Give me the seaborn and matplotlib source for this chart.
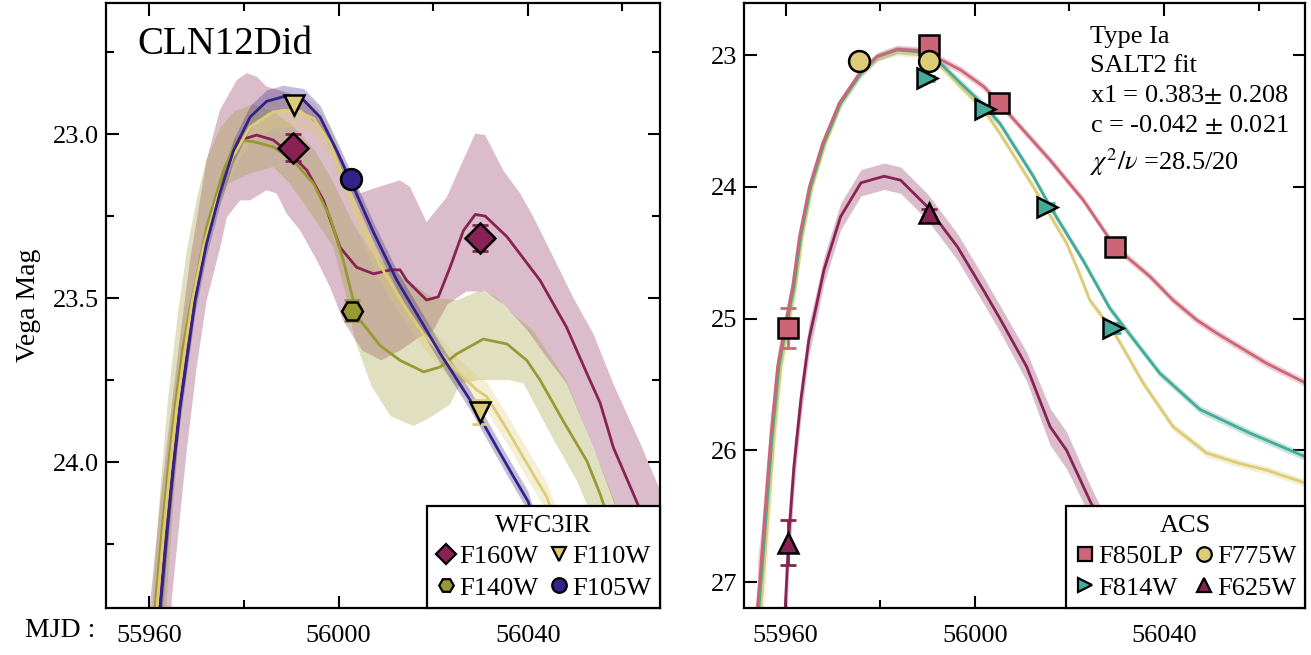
import numpy as np
import matplotlib
matplotlib.use("Agg")
import matplotlib.pyplot as plt
import seaborn as sns
from matplotlib.lines import Line2D
from matplotlib.ticker import MultipleLocator, FormatStrFormatter

sns.set_theme(style="ticks")
plt.rcParams["font.family"] = ["Liberation Serif", "DejaVu Serif"]
plt.rcParams["mathtext.fontset"] = "stix"
for key in ["text.color", "axes.labelcolor", "xtick.color", "ytick.color", "axes.edgecolor"]:
    plt.rcParams[key] = "black"

# colours (Tol muted)
WINE, OLIVE, SAND, INDIGO = "#882255", "#999933", "#DDCC77", "#332288"
ROSE, TEAL = "#CC6677", "#44AA99"

# ---------------- left panel : WFC3IR ----------------
# F105W curve
x_105 = [55961.7, 55962.3, 55963.7, 55965.1, 55966.5, 55968.2, 55969.7, 55972.1, 55974.9, 55977.8,
         55981.3, 55984.8, 55988.3, 55992.6, 55996.1, 55999.6, 56003.1, 56007.4, 56012.3, 56016.5,
         56021.5, 56027.8, 56033.4, 56037.0, 56040.1, 56046.0]
y_105 = [24.65, 24.445, 24.221, 24.015, 23.834, 23.66, 23.506, 23.333, 23.181, 23.05,
         22.948, 22.90, 22.886, 22.896, 22.948, 23.05, 23.16, 23.30, 23.445, 23.547,
         23.669, 23.811, 23.954, 24.045, 24.121, 24.40]
w_105 = [0.10, 0.08, 0.06, 0.05, 0.04, 0.035, 0.035, 0.035, 0.035, 0.035,
         0.035, 0.035, 0.035, 0.035, 0.035, 0.03, 0.03, 0.03, 0.03, 0.03,
         0.03, 0.03, 0.03, 0.03, 0.03, 0.03]

# F110W curve
x_110 = [55961.0, 55961.6, 55963.0, 55964.4, 55965.8, 55967.5, 55969.1, 55971.5, 55974.5, 55977.6,
         55981.3, 55986.2, 55990.4, 55994.7, 55998.2, 56001.0, 56004.5, 56008.8, 56013.7, 56018.0,
         56024.3, 56029.2, 56031.3, 56035.6, 56039.8, 56044.0, 56050.0]
y_110 = [24.65, 24.445, 24.221, 24.015, 23.834, 23.66, 23.506, 23.34, 23.19, 23.07,
         22.978, 22.932, 22.927, 22.952, 23.028, 23.13, 23.26, 23.40, 23.52, 23.61,
         23.712, 23.78, 23.80, 23.90, 24.004, 24.106, 24.35]
w_110 = [0.10, 0.08, 0.06, 0.05, 0.04, 0.04, 0.04, 0.04, 0.04, 0.04,
         0.045, 0.05, 0.05, 0.05, 0.05, 0.05, 0.05, 0.05, 0.045, 0.045,
         0.045, 0.045, 0.045, 0.045, 0.045, 0.045, 0.045]

# F140W curve and band edges
x_140 = [55960.6, 55961.2, 55962.6, 55964.0, 55965.4, 55967.0, 55968.6, 55970.0, 55972.1, 55975.7,
         55978.5, 55982.0, 55986.2, 55990.4, 55994.7, 55998.2, 56001.0, 56003.1, 56004.5, 56008.8,
         56013.0, 56018.0, 56021.5, 56025.0, 56030.6, 56035.6, 56039.8, 56042.6, 56047.5, 56052.5,
         56055.3, 56060.0]
y_140 = [24.65, 24.445, 24.221, 24.015, 23.834, 23.66, 23.53, 23.436, 23.283, 23.11,
         23.018, 23.023, 23.039, 23.08, 23.151, 23.253, 23.385, 23.506, 23.567, 23.645,
         23.69, 23.725, 23.71, 23.67, 23.625, 23.64, 23.69, 23.75, 23.875, 23.997,
         24.098, 24.30]
x_140_hi = [55960.0, 55961.0, 55962.5, 55964.0, 55966.0, 55968.0, 55970.0, 55972.0, 55975.0, 55978.0,
            55982.0, 55986.0, 55990.0, 55995.0, 55999.0, 56003.0, 56007.0, 56012.0, 56016.0, 56020.0,
            56025.0, 56030.0, 56033.4, 56037.0, 56041.2, 56048.2, 56056.7, 56063.0]
y_140_hi = [24.6, 24.35, 24.05, 23.80, 23.55, 23.35, 23.20, 23.08, 22.98, 22.93,
            22.91, 22.93, 22.97, 23.05, 23.15, 23.27, 23.36, 23.42, 23.46, 23.50,
            23.506, 23.477, 23.497, 23.55, 23.60, 23.752, 24.058, 24.30]
x_140_lo = [55963.0, 55964.0, 55965.5, 55967.0, 55969.0, 55971.0, 55973.5, 55976.7, 55981.3, 55986.2,
            55989.7, 55994.7, 55998.9, 56001.7, 56003.5, 56007.0, 56011.0, 56015.8, 56019.3, 56023.6,
            56025.7, 56030.0, 56036.0, 56039.1, 56045.0, 56050.4, 56056.0, 56062.0]
y_140_lo = [24.6, 24.35, 24.05, 23.80, 23.55, 23.40, 23.25, 23.151, 23.12, 23.10,
            23.151, 23.253, 23.345, 23.50, 23.63, 23.77, 23.86, 23.89, 23.865, 23.824,
            23.76, 23.75, 23.75, 23.76, 23.92, 24.058, 24.25, 24.50]

# F160W curve and band edges
x_160 = [55961.5, 55962.2, 55963.5, 55965.0, 55966.4, 55968.0, 55969.6, 55972.0, 55975.0, 55979.2,
         55982.7, 55986.2, 55989.7, 55993.3, 55996.8, 56000.3, 56003.8, 56007.4, 56011.0, 56013.0,
         56014.4, 56018.6, 56021.1, 56023.6, 56026.4, 56028.9, 56031.0, 56035.6, 56042.6, 56048.2,
         56052.5, 56055.3, 56058.1, 56063.0, 56068.0]
y_160 = [24.65, 24.445, 24.221, 24.015, 23.834, 23.66, 23.506, 23.32, 23.16, 23.018,
         23.003, 23.018, 23.059, 23.11, 23.202, 23.345, 23.406, 23.426, 23.414, 23.414,
         23.446, 23.506, 23.496, 23.405, 23.294, 23.245, 23.25, 23.313, 23.446, 23.589,
         23.73, 23.82, 23.956, 24.12, 24.30]
x_160_hi = [55959.8, 55960.2, 55962.3, 55964.4, 55966.5, 55968.6, 55972.1, 55974.9, 55978.5, 55980.6,
            55982.7, 55984.8, 55988.3, 55992.6, 55996.1, 56000.0, 56004.5, 56007.4, 56013.0, 56015.1,
            56018.6, 56022.9, 56025.7, 56028.9, 56031.0, 56034.8, 56038.4, 56041.2, 56045.4, 56049.6,
            56053.9, 56058.1, 56063.7, 56069.0]
y_160_hi = [24.6, 24.425, 24.119, 23.865, 23.62, 23.385, 23.08, 22.927, 22.835, 22.814,
            22.825, 22.855, 22.87, 22.89, 22.95, 23.06, 23.181, 23.166, 23.141, 23.161,
            23.268, 23.192, 23.10, 22.998, 23.003, 23.11, 23.181, 23.253, 23.375, 23.498,
            23.61, 23.762, 23.94, 24.12]
x_160_lo = [55965.2, 55964.7, 55966.1, 55967.9, 55970.0, 55972.1, 55975.0, 55976.4, 55979.2, 55981.3,
            55984.8, 55986.9, 55989.0, 55991.9, 55995.4, 55998.2, 56001.0, 56005.0, 56009.0, 56013.0,
            56017.0, 56020.0, 56023.0, 56027.0, 56031.0, 56035.0, 56040.0, 56045.0, 56048.2, 56053.9,
            56058.1, 56062.0, 56066.0]
y_160_lo = [24.6, 24.425, 24.221, 23.966, 23.712, 23.508, 23.345, 23.253, 23.202, 23.202,
            23.171, 23.181, 23.242, 23.294, 23.385, 23.467, 23.569, 23.66, 23.69, 23.66,
            23.62, 23.60, 23.52, 23.48, 23.48, 23.52, 23.60, 23.70, 23.76, 23.956,
            24.119, 24.30, 24.50]

# WFC3IR photometry
pt_160_x, pt_160_y, pt_160_e = [55990.3, 56029.8], [23.041, 23.316], [0.04, 0.039]
pt_110_x, pt_110_y, pt_110_e = [55990.5, 56030.0], [22.91, 23.847], [0.02, 0.037]
pt_140_x, pt_140_y, pt_140_e = [56002.8], [23.538], [0.033]
pt_105_x, pt_105_y, pt_105_e = [56002.7], [23.137], [0.015]

# ---------------- right panel : ACS (SALT2) ----------------
x_850 = [55954.0, 55954.75, 55955.8, 55956.9, 55958.3, 55959.76, 55961.45, 55962.9, 55965.0, 55967.8,
         55971.3, 55975.6, 55979.2, 55983.6, 55987.8, 55992.0, 55997.0, 56001.9, 56005.0, 56009.0,
         56015.9, 56022.9, 56029.6, 56037.0, 56041.9, 56046.9, 56051.1, 56061.7, 56070.0]
y_850 = [27.19, 26.88, 26.38, 25.87, 25.36, 25.07, 24.758, 24.379, 23.999, 23.67,
         23.366, 23.139, 23.013, 22.955, 22.965, 23.02, 23.114, 23.24, 23.36, 23.52,
         23.797, 24.10, 24.455, 24.68, 24.86, 25.01, 25.11, 25.34, 25.49]
x_814 = [55954.35, 55955.05, 55956.1, 55957.2, 55958.6, 55960.06, 55961.75, 55963.17, 55965.29, 55968.1,
         55971.6, 55975.9, 55979.4, 55983.6, 55987.8, 55992.0, 55997.0, 56001.9, 56005.3, 56012.35,
         56015.9, 56022.9, 56028.5, 56032.1, 56039.1, 56047.6, 56058.2, 56070.0]
y_814 = [27.19, 26.88, 26.38, 25.87, 25.36, 25.07, 24.758, 24.379, 23.999, 23.67,
         23.366, 23.139, 23.013, 22.962, 22.975, 23.038, 23.215, 23.38, 23.52, 23.92,
         24.15, 24.56, 24.92, 25.09, 25.415, 25.69, 25.87, 26.05]
x_775 = [55954.75, 55955.45, 55956.5, 55957.6, 55959.0, 55960.46, 55962.1, 55963.5, 55965.6, 55968.4,
         55971.8, 55976.0, 55979.5, 55983.6, 55987.8, 55992.0, 55997.0, 56001.9, 56005.3, 56012.35,
         56019.4, 56022.0, 56024.3, 56026.4, 56030.0, 56035.6, 56041.9, 56049.0, 56056.0, 56061.7,
         56070.0]
y_775 = [27.19, 26.88, 26.38, 25.87, 25.36, 25.07, 24.758, 24.379, 23.999, 23.67,
         23.366, 23.139, 23.02, 22.975, 22.99, 23.055, 23.24, 23.417, 23.594, 24.0,
         24.43, 24.65, 24.86, 24.96, 25.14, 25.49, 25.82, 26.02, 26.10, 26.15,
         26.25]
x_625 = [55959.9, 55960.7, 55961.75, 55963.2, 55964.9, 55966.2, 55968.1, 55971.6, 55975.9, 55980.8,
         55984.3, 55989.9, 55996.3, 56001.9, 56005.3, 56010.95, 56015.9, 56019.4, 56024.3, 56030.0,
         56035.0]
y_625 = [27.19, 26.63, 26.12, 25.62, 25.16, 24.95, 24.63, 24.227, 23.97, 23.92,
         23.95, 24.15, 24.455, 24.79, 25.0, 25.365, 25.82, 26.0, 26.38, 26.8,
         27.2]
w_625 = [0.35, 0.25, 0.18, 0.14, 0.12, 0.11, 0.10, 0.10, 0.10, 0.10,
         0.10, 0.10, 0.10, 0.10, 0.10, 0.11, 0.14, 0.14, 0.12, 0.12,
         0.12]
# rise width shared by the three bright ACS models, then constant
w_rise = [0.35, 0.28, 0.22, 0.16, 0.11, 0.08, 0.06, 0.05, 0.04]
w_tail = 0.03

# ACS photometry
pt_850_x, pt_850_y, pt_850_e = [55960.5, 55990.2, 56005.1, 56029.6], [25.07, 22.924, 23.362, 24.455], [0.153, 0.02, 0.02, 0.02]
pt_775_x, pt_775_y, pt_775_e = [55975.6, 55990.2], [23.045, 23.045], [0.02, 0.02]
pt_814_x, pt_814_y, pt_814_e = [55989.8, 56002.1, 56015.2, 56029.3], [23.177, 23.41, 24.15, 25.07], [0.02, 0.02, 0.03, 0.04]
pt_625_x, pt_625_y, pt_625_e = [55960.5, 55990.2], [26.70, 24.196], [0.17, 0.03]

FS = 19
BAND_ALPHA = 0.3
MS = 15


def model(ax, x, y, color, w=None, lw=2.0, z=2):
    if w is not None:
        y_arr, w_arr = np.asarray(y), np.asarray(w)
        ax.fill_between(x, y_arr - w_arr, y_arr + w_arr, color=color, alpha=BAND_ALPHA, lw=0, zorder=1)
    sns.lineplot(x=x, y=y, ax=ax, color=color, lw=lw, sort=False, estimator=None, zorder=z)


def band(ax, xh, yh, xl, yl, color):
    ax.fill(np.concatenate([xh, xl[::-1]]), np.concatenate([yh, yl[::-1]]),
            color=color, alpha=BAND_ALPHA, lw=0, zorder=1)


def points(ax, x, y, e, color, marker):
    ax.errorbar(x, y, yerr=e, fmt="none", ecolor=color, elinewidth=2, capsize=6, capthick=2, zorder=3)
    ax.plot(x, y, ls="none", marker=marker, ms=MS, mfc=color, mec="black", mew=1.8, zorder=4)


def handle(marker, color):
    return Line2D([], [], ls="none", marker=marker, ms=MS * 0.7, mfc=color, mec="black", mew=1.6)


def style(ax):
    ax.tick_params(which="both", direction="in", top=True, right=True, labelsize=FS, width=1.5)
    ax.tick_params(which="major", length=9)
    ax.tick_params(which="minor", length=5.5)
    ax.tick_params(axis="x", pad=12)
    ax.tick_params(axis="y", pad=5)
    for s in ax.spines.values():
        s.set_linewidth(1.6)
        s.set_color("black")
    ax.xaxis.set_major_locator(MultipleLocator(40))
    ax.xaxis.set_minor_locator(MultipleLocator(20))
    ax.xaxis.set_major_formatter(FormatStrFormatter("%d"))
    ax.set_xlabel("")
    ax.set_ylabel("")


def legend(ax, handles, labels, title):
    leg = ax.legend(handles, labels, title=title, ncol=2, loc="lower right",
                    fontsize=FS, title_fontsize=FS, borderaxespad=0, fancybox=False, framealpha=1,
                    edgecolor="black", handlelength=0.8, handletextpad=0.1, columnspacing=0.4,
                    labelspacing=0.3, borderpad=0.32)
    leg.get_frame().set_linewidth(1.6)
    leg.set_zorder(10)
    return leg


fig = plt.figure(figsize=(13.11, 6.55), dpi=100)
ax1 = fig.add_axes([0.0809, 0.0718, 0.4226, 0.9237])
ax2 = fig.add_axes([0.5675, 0.0718, 0.4279, 0.9237])

# left panel
band(ax1, x_160_hi, y_160_hi, x_160_lo, y_160_lo, WINE)
band(ax1, x_140_hi, y_140_hi, x_140_lo, y_140_lo, OLIVE)
model(ax1, x_160, y_160, WINE)
model(ax1, x_140, y_140, OLIVE)
model(ax1, x_110, y_110, SAND, w_110)
model(ax1, x_105, y_105, INDIGO, w_105)
points(ax1, pt_160_x, pt_160_y, pt_160_e, WINE, "D")
points(ax1, pt_110_x, pt_110_y, pt_110_e, SAND, "v")
points(ax1, pt_140_x, pt_140_y, pt_140_e, OLIVE, "H")
points(ax1, pt_105_x, pt_105_y, pt_105_e, INDIGO, "o")

ax1.set_xlim(55950.85, 56067.97)
ax1.set_ylim(24.445, 22.60)
style(ax1)
ax1.yaxis.set_major_locator(MultipleLocator(0.5))
ax1.yaxis.set_minor_locator(MultipleLocator(0.25))
ax1.yaxis.set_major_formatter(FormatStrFormatter("%.1f"))
ax1.set_ylabel("Vega Mag", fontsize=FS + 1)
ax1.yaxis.set_label_coords(-0.118, 0.5)
ax1.text(0.056, 0.962, "CLN12Did", transform=ax1.transAxes, fontsize=28, va="top", ha="left")

legend(ax1, [handle("D", WINE), handle("H", OLIVE), handle("v", SAND), handle("o", INDIGO)],
       ["F160W", "F140W", "F110W", "F105W"], "WFC3IR")

# right panel
bright_w_850 = w_rise + [w_tail] * (len(x_850) - len(w_rise))
bright_w_814 = w_rise + [w_tail] * (len(x_814) - len(w_rise))
bright_w_775 = w_rise + [w_tail] * (len(x_775) - len(w_rise))
model(ax2, x_625, y_625, WINE, w_625)
model(ax2, x_775, y_775, SAND, bright_w_775)
model(ax2, x_814, y_814, TEAL, bright_w_814)
model(ax2, x_850, y_850, ROSE, bright_w_850)
points(ax2, pt_850_x, pt_850_y, pt_850_e, ROSE, "s")
points(ax2, pt_775_x, pt_775_y, pt_775_e, SAND, "o")
points(ax2, pt_814_x, pt_814_y, pt_814_e, TEAL, ">")
points(ax2, pt_625_x, pt_625_y, pt_625_e, WINE, "^")

ax2.set_xlim(55951.18, 56069.8)
ax2.set_ylim(27.196, 22.605)
style(ax2)
ax2.yaxis.set_major_locator(MultipleLocator(1))
ax2.yaxis.set_minor_locator(MultipleLocator(1))
ax2.yaxis.set_major_formatter(FormatStrFormatter("%d"))
ax2.text(0.617, 0.962,
         "Type Ia\nSALT2 fit\nx1 = 0.383$\\pm$ 0.208\nc = -0.042 $\\pm$ 0.021\n$\\chi^2/\\nu$ =28.5/20",
         transform=ax2.transAxes, fontsize=FS, va="top", ha="left", linespacing=1.4)

legend(ax2, [handle("s", ROSE), handle(">", TEAL), handle("o", SAND), handle("^", WINE)],
       ["F850LP", "F814W", "F775W", "F625W"], "ACS")

fig.text(0.019, 0.028, "MJD :", fontsize=FS + 1, va="baseline", ha="left")

fig.savefig("out.png", dpi=100, facecolor="white")
